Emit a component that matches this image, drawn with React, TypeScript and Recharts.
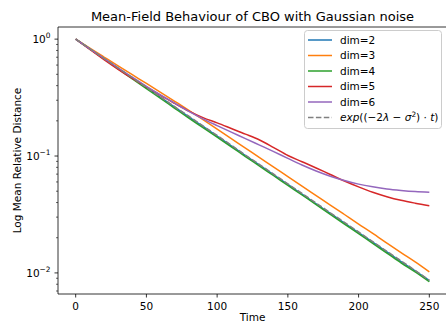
import React from 'react';
import { LineChart, Line, XAxis, YAxis, Legend, ReferenceArea } from 'recharts';

// Sample times
const time = [0, 10, 20, 30, 40, 50, 60, 70, 80, 90, 100, 110, 120, 130, 140, 150, 160, 170, 180, 190, 200, 210, 220, 230, 240, 250];

// Mean relative distance per dimension
const dim2 = [1.0, 0.826, 0.682, 0.563, 0.465, 0.384, 0.317, 0.262, 0.216, 0.179, 0.148, 0.122, 0.101, 0.0836, 0.0691, 0.0571, 0.0472, 0.039, 0.0323, 0.0267, 0.0221, 0.0183, 0.0151, 0.0125, 0.0104, 0.0086];
const dim3 = [1.0, 0.838, 0.703, 0.59, 0.496, 0.418, 0.351, 0.294, 0.246, 0.205, 0.17, 0.141, 0.117, 0.097, 0.0805, 0.0667, 0.0553, 0.0459, 0.0381, 0.0316, 0.0262, 0.0218, 0.018, 0.0149, 0.0124, 0.0102];
const dim4 = [1.0, 0.825, 0.678, 0.557, 0.458, 0.377, 0.311, 0.256, 0.211, 0.175, 0.145, 0.12, 0.099, 0.082, 0.0678, 0.0561, 0.0464, 0.0384, 0.0317, 0.0262, 0.0217, 0.0179, 0.0148, 0.0122, 0.0102, 0.0084];
const dim5 = [1.0, 0.815, 0.668, 0.552, 0.461, 0.39, 0.33, 0.282, 0.242, 0.213, 0.192, 0.172, 0.154, 0.137, 0.118, 0.101, 0.0894, 0.079, 0.0695, 0.0612, 0.0545, 0.049, 0.0449, 0.0418, 0.0395, 0.0376];
const dim6 = [1.0, 0.826, 0.685, 0.568, 0.472, 0.395, 0.333, 0.283, 0.241, 0.208, 0.182, 0.16, 0.141, 0.124, 0.109, 0.0955, 0.0838, 0.0745, 0.0672, 0.0617, 0.0575, 0.0545, 0.0522, 0.0507, 0.0496, 0.049];
// Theoretical decay exp((-2λ - σ²)·t)
const expRef = [1.0, 0.827, 0.684, 0.566, 0.468, 0.387, 0.32, 0.264, 0.219, 0.181, 0.15, 0.124, 0.102, 0.0846, 0.0699, 0.0578, 0.0478, 0.0396, 0.0327, 0.0271, 0.0224, 0.0185, 0.0153, 0.0127, 0.0105, 0.00865];

// Axis ticks
const xTicks = [0, 50, 100, 150, 200, 250];
const yMajor = [0.01, 0.1, 1];
const yMajorLabels = ['−2', '−1', '0'];
const yMinor = [0.007, 0.008, 0.009, 0.02, 0.03, 0.04, 0.05, 0.06, 0.07, 0.08, 0.09, 0.2, 0.3, 0.4, 0.5, 0.6, 0.7, 0.8, 0.9];

const X_DOMAIN: [number, number] = [-12.5, 262.5];
const Y_DOMAIN: [number, number] = [0.0066, 1.27];

const FONT = '"DejaVu Sans", sans-serif';

const series = [
  { key: 'dim2', name: 'dim=2', color: '#1f77b4', values: dim2, dashed: false },
  { key: 'dim3', name: 'dim=3', color: '#ff7f0e', values: dim3, dashed: false },
  { key: 'dim4', name: 'dim=4', color: '#2ca02c', values: dim4, dashed: false },
  { key: 'dim5', name: 'dim=5', color: '#d62728', values: dim5, dashed: false },
  { key: 'dim6', name: 'dim=6', color: '#9467bd', values: dim6, dashed: false },
  { key: 'expRef', name: 'exp', color: '#808080', values: expRef, dashed: true },
];

const data = time.map((t, i) => {
  const row: Record<string, number> = { t };
  series.forEach((s) => {
    row[s.key] = s.values[i];
  });
  return row;
});

const YTick = (props: any) => {
  const { x, y, payload } = props;
  const v = payload.value as number;
  const mi = yMajor.findIndex((m) => Math.abs(m - v) < 1e-12);
  const major = mi >= 0;
  return (
    <g>
      <line x1={x} x2={x - (major ? 3.5 : 2)} y1={y} y2={y} stroke="#000" strokeWidth={major ? 0.8 : 0.6} />
      {major && (
        <text x={x - 7.5} y={y + 3.8} textAnchor="end" fontFamily={FONT} fontSize={10.5} fill="#000">
          10
          <tspan dy={-5} fontSize={7.4}>{yMajorLabels[mi]}</tspan>
        </text>
      )}
    </g>
  );
};

const XTick = (props: any) => {
  const { x, y, payload } = props;
  return (
    <g>
      <line x1={x} x2={x} y1={y} y2={y + 3.5} stroke="#000" strokeWidth={0.8} />
      <text x={x} y={y + 16} textAnchor="middle" fontFamily={FONT} fontSize={10.5} fill="#000">
        {payload.value}
      </text>
    </g>
  );
};

const ExpLabel = ({ x, y }: { x: number; y: number }) => (
  <text x={x} y={y} fontFamily={FONT} fontSize={10.5} fill="#000">
    <tspan fontStyle="italic">exp</tspan>
    <tspan>((−2</tspan>
    <tspan fontStyle="italic">λ</tspan>
    <tspan> − </tspan>
    <tspan fontStyle="italic">σ</tspan>
    <tspan dy={-4.5} fontSize={7.4}>2</tspan>
    <tspan dy={4.5}>) · </tspan>
    <tspan fontStyle="italic">t</tspan>
    <tspan>)</tspan>
  </text>
);

const LegendBox = () => {
  const w = 138;
  const h = 99;
  return (
    <svg width={w} height={h} style={{ display: 'block' }}>
      <rect x={0.5} y={0.5} width={w - 1} height={h - 1} rx={3} fill="rgba(255,255,255,0.8)" stroke="#cccccc" strokeWidth={1} />
      {series.map((s, i) => {
        const cy = 10 + i * 15.5;
        return (
          <g key={s.key}>
            <line
              x1={4}
              x2={28}
              y1={cy}
              y2={cy}
              stroke={s.color}
              strokeWidth={1.5}
              strokeDasharray={s.dashed ? '5.5 2.4' : undefined}
            />
            {s.dashed ? (
              <ExpLabel x={36} y={cy + 3.8} />
            ) : (
              <text x={36} y={cy + 3.8} fontFamily={FONT} fontSize={10.5} fill="#000">
                {s.name}
              </text>
            )}
          </g>
        );
      })}
    </svg>
  );
};

export default function App() {
  return (
    <div style={{ position: 'absolute', left: 0, top: 0, width: 446, height: 322, background: '#fff', overflow: 'hidden' }}>
      <svg width={446} height={24} style={{ position: 'absolute', left: 0, top: 0 }}>
        <text x={252.5} y={20.5} textAnchor="middle" fontFamily={FONT} fontSize={13} fill="#000">
          Mean-Field Behaviour of CBO with Gaussian noise
        </text>
      </svg>
      <LineChart width={446} height={322} data={data} margin={{ top: 27, right: -1, bottom: 0, left: 0 }}>
        <XAxis
          dataKey="t"
          type="number"
          domain={X_DOMAIN}
          ticks={xTicks}
          interval={0}
          allowDataOverflow
          height={28}
          axisLine={false}
          tickLine={false}
          tickSize={0}
          tickMargin={0}
          tick={<XTick />}
          label={{
            content: (p: any) => {
              const vb = p.viewBox || {};
              return (
                <text x={vb.x + vb.width / 2} y={vb.y + 27} textAnchor="middle" fontFamily={FONT} fontSize={10.5} fill="#000">
                  Time
                </text>
              );
            },
          }}
        />
        <YAxis
          type="number"
          scale="log"
          domain={Y_DOMAIN}
          ticks={[...yMinor, ...yMajor].sort((a, b) => a - b)}
          interval={0}
          allowDataOverflow
          width={58}
          axisLine={false}
          tickLine={false}
          tickSize={0}
          tickMargin={0}
          tick={<YTick />}
          label={{
            content: (p: any) => {
              const vb = p.viewBox || {};
              const cy = vb.y + vb.height / 2;
              return (
                <text
                  x={21}
                  y={cy}
                  transform={`rotate(-90, 21, ${cy})`}
                  textAnchor="middle"
                  fontFamily={FONT}
                  fontSize={10.5}
                  fill="#000"
                >
                  Log Mean Relative Distance
                </text>
              );
            },
          }}
        />
        {series.map((s) => (
          <Line
            key={s.key}
            dataKey={s.key}
            name={s.name}
            stroke={s.color}
            strokeWidth={1.5}
            strokeDasharray={s.dashed ? '5.5 2.4' : undefined}
            type={s.dashed ? 'linear' : 'monotone'}
            dot={false}
            activeDot={false}
            isAnimationActive={false}
          />
        ))}
        <ReferenceArea
          x1={X_DOMAIN[0]}
          x2={X_DOMAIN[1]}
          y1={Y_DOMAIN[0]}
          y2={Y_DOMAIN[1]}
          fill="none"
          stroke="#000"
          strokeWidth={0.8}
          ifOverflow="visible"
        />
        <Legend
          layout="vertical"
          align="center"
          verticalAlign="middle"
          content={() => <LegendBox />}
          wrapperStyle={{ position: 'absolute', left: 304, top: 30, width: 138, height: 99 }}
        />
      </LineChart>
    </div>
  );
}
